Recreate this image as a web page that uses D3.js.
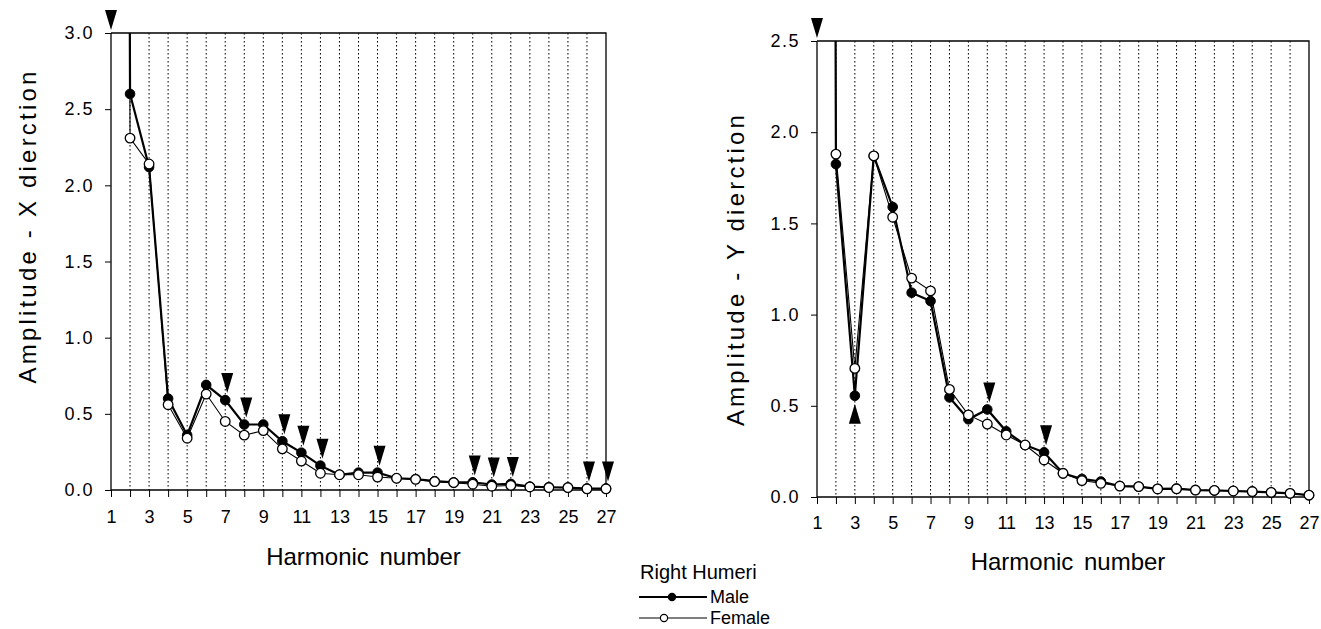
<!DOCTYPE html>
<html>
<head>
<meta charset="utf-8">
<script src="https://cdn.jsdelivr.net/npm/d3@7"></script>
<style>
  body { margin: 0; background: #fff; }
  svg text { font-family: "Liberation Sans", Arial, Helvetica, sans-serif; fill: #000; }
</style>
</head>
<body>
<svg id="chart" width="1321" height="629"></svg>
<script>
// harmonic numbers (x categories)
var harmonics = [1,2,3,4,5,6,7,8,9,10,11,12,13,14,15,16,17,18,19,20,21,22,23,24,25,26,27];
var xTickLabels = [1,3,5,7,9,11,13,15,17,19,21,23,25,27];

// amplitude, X direction (harmonic 1 is far off the top of the scale)
var maleX   = [40, 2.60, 2.12, 0.60, 0.36, 0.69, 0.59, 0.43, 0.43, 0.32, 0.245, 0.16, 0.10, 0.114, 0.114, 0.077, 0.072, 0.058, 0.05, 0.05, 0.036, 0.04, 0.022, 0.018, 0.016, 0.01, 0.01];
var femaleX = [40, 2.31, 2.14, 0.56, 0.34, 0.63, 0.45, 0.36, 0.39, 0.27, 0.19, 0.11, 0.10, 0.10, 0.085, 0.077, 0.07, 0.055, 0.048, 0.038, 0.025, 0.03, 0.02, 0.016, 0.016, 0.008, 0.008];

// amplitude, Y direction
var maleY   = [40, 1.825, 0.555, 1.87, 1.59, 1.12, 1.074, 0.546, 0.426, 0.48, 0.36, 0.285, 0.245, 0.13, 0.099, 0.085, 0.06, 0.057, 0.045, 0.046, 0.038, 0.036, 0.033, 0.03, 0.025, 0.02, 0.01];
var femaleY = [40, 1.88, 0.705, 1.87, 1.534, 1.20, 1.13, 0.59, 0.45, 0.40, 0.34, 0.285, 0.203, 0.13, 0.09, 0.075, 0.06, 0.057, 0.044, 0.045, 0.038, 0.036, 0.033, 0.03, 0.025, 0.02, 0.01];

// significant harmonics (arrows)
var sigXDown = [1, 7, 8, 10, 11, 12, 15, 20, 21, 22, 26, 27];
var sigYDown = [1, 10, 13];
var sigYUp = [3];

var yTicksX = [0, 0.5, 1.0, 1.5, 2.0, 2.5, 3.0];
var yTicksY = [0, 0.5, 1.0, 1.5, 2.0, 2.5];

var svg = d3.select("#chart");

drawPanel({
    id: "px", left: 111, right: 606, top: 33, bottom: 490, yMax: 3.0,
    yTicks: yTicksX, male: maleX, female: femaleX, down: sigXDown, up: [],
    ylabel: "Amplitude - X dierction", ylabelX: 36, ylabelY: 226,
    xlabelY: 565, tickLabelY: 523
});

drawPanel({
    id: "py", left: 817, right: 1309, top: 41, bottom: 497, yMax: 2.5,
    yTicks: yTicksY, male: maleY, female: femaleY, down: sigYDown, up: sigYUp,
    ylabel: "Amplitude - Y dierction", ylabelX: 744, ylabelY: 269,
    xlabelY: 570, tickLabelY: 529
});

function drawPanel(c) {
    var x = d3.scaleLinear().domain([1, 27]).range([c.left, c.right]);
    var y = d3.scaleLinear().domain([0, c.yMax]).range([c.bottom, c.top]);
    var g = svg.append("g");

    g.append("clipPath").attr("id", "clip-" + c.id)
        .append("rect")
        .attr("x", c.left - 8).attr("y", c.top)
        .attr("width", c.right - c.left + 16).attr("height", c.bottom - c.top + 8);

    // dotted verticals
    g.selectAll(".grid").data(harmonics.slice(1, 26)).enter().append("line")
        .attr("x1", d => x(d)).attr("x2", d => x(d))
        .attr("y1", c.top).attr("y2", c.bottom)
        .attr("stroke", "#000").attr("stroke-width", 1)
        .attr("stroke-dasharray", "1.6,2.4");

    // frame top + right
    g.append("path")
        .attr("d", "M" + c.left + "," + c.top + "H" + c.right + "V" + c.bottom)
        .attr("fill", "none").attr("stroke", "#000").attr("stroke-width", 1.3);

    // y axis
    var ya = g.append("g").attr("transform", "translate(" + c.left + ",0)")
        .call(d3.axisLeft(y).tickValues(c.yTicks).tickFormat(d3.format(".1f")).tickSize(6).tickPadding(11));
    ya.select(".domain").attr("d", "M0," + c.top + "V" + c.bottom).attr("stroke-width", 1.3);
    ya.selectAll("text").style("font-size", "18px").style("letter-spacing", "1.5px");

    // x axis
    var xa = g.append("g").attr("transform", "translate(0," + c.bottom + ")")
        .call(d3.axisBottom(x).tickValues(harmonics).tickSize(7)
            .tickFormat(d => xTickLabels.indexOf(d) >= 0 ? d : ""));
    xa.select(".domain").attr("d", "M" + c.left + ",0H" + (c.right + 3)).attr("stroke-width", 1.3);
    xa.selectAll("text").style("font-size", "18px")
        .attr("y", c.tickLabelY - c.bottom).attr("dy", 0);

    g.append("text")
        .attr("x", (c.left + c.right) / 2 + 5).attr("y", c.xlabelY)
        .attr("text-anchor", "middle").style("font-size", "24px").style("word-spacing", "4px")
        .text("Harmonic number");

    g.append("text")
        .attr("transform", "translate(" + c.ylabelX + "," + c.ylabelY + ") rotate(-90)")
        .attr("text-anchor", "middle").style("font-size", "24px").style("letter-spacing", "3.2px")
        .text(c.ylabel);

    // lines
    var line = d3.line().x((d, i) => x(harmonics[i])).y(d => y(d));
    var plot = g.append("g").attr("clip-path", "url(#clip-" + c.id + ")");

    plot.append("path").datum(c.male).attr("d", line)
        .attr("fill", "none").attr("stroke", "#000").attr("stroke-width", 2.2);
    plot.append("path").datum(c.female).attr("d", line)
        .attr("fill", "none").attr("stroke", "#000").attr("stroke-width", 1.1);

    plot.selectAll(".m").data(c.male).enter().append("circle")
        .attr("cx", (d, i) => x(harmonics[i])).attr("cy", d => y(d)).attr("r", 4.8)
        .attr("fill", "#000").attr("stroke", "#000");
    plot.selectAll(".f").data(c.female).enter().append("circle")
        .attr("cx", (d, i) => x(harmonics[i])).attr("cy", d => y(d)).attr("r", 4.8)
        .attr("fill", "#fff").attr("stroke", "#000").attr("stroke-width", 1.3);

    // arrows
    var tw = 6, th = 20;
    g.selectAll(".dn").data(c.down).enter().append("path")
        .attr("d", function (h) {
            var v = Math.max(c.male[h - 1], c.female[h - 1]);
            var tip = v > c.yMax ? c.top - 3 : y(v) - 7;
            var cx = x(h) + (v > c.yMax ? 0 : 2);
            return "M" + (cx - tw) + "," + (tip - th) + "L" + (cx + tw) + "," + (tip - th) + "L" + cx + "," + tip + "Z";
        })
        .attr("fill", "#000");
    g.selectAll(".upa").data(c.up).enter().append("path")
        .attr("d", function (h) {
            var tip = y(Math.min(c.male[h - 1], c.female[h - 1])) + 8;
            var cx = x(h);
            return "M" + (cx - tw) + "," + (tip + th) + "L" + (cx + tw) + "," + (tip + th) + "L" + cx + "," + tip + "Z";
        })
        .attr("fill", "#000");
}

// legend
var lg = svg.append("g");
lg.append("text").attr("x", 640).attr("y", 579).style("font-size", "20px").text("Right Humeri");
var legendItems = [
    { label: "Male", fill: "#000", w: 2.2, y: 597, mx: 672 },
    { label: "Female", fill: "#fff", w: 1.1, y: 618, mx: 664 }
];
legendItems.forEach(function (d) {
    lg.append("line").attr("x1", 639).attr("x2", 707).attr("y1", d.y).attr("y2", d.y)
        .attr("stroke", "#000").attr("stroke-width", d.w);
    lg.append("circle").attr("cx", d.mx).attr("cy", d.y).attr("r", 3.6)
        .attr("fill", d.fill).attr("stroke", "#000").attr("stroke-width", 1.2);
    lg.append("text").attr("x", 710).attr("y", d.y + 6).style("font-size", "18px").text(d.label);
});
</script>
</body>
</html>
